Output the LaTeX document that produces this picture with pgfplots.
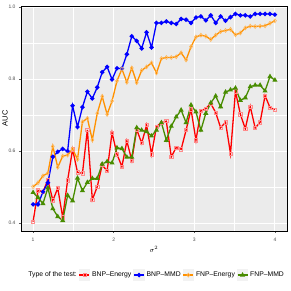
\documentclass[border=0pt]{standalone}
\usepackage{pgfplots}
\pgfplotsset{compat=1.18}
\usepackage{pgfplotstable}
\usepackage{fontspec}
\setmainfont{Liberation Sans}
\definecolor{panelbg}{HTML}{EBEBEB}
\definecolor{keybg}{HTML}{F2F2F2}
\definecolor{gray30}{HTML}{4D4D4D}
\definecolor{cred}{HTML}{FF0000}
\definecolor{cblue}{HTML}{0000FF}
\definecolor{corange}{RGB}{255,145,0}
\definecolor{cgreen}{RGB}{72,140,0}

\pgfplotstableread{
x      bnpE   bnpM   fnpE   fnpM
1.0000 0.404  0.452  0.501  0.485
1.0612 0.491  0.452  0.512  0.471
1.1224 0.487  0.487  0.531  0.454
1.1837 0.520  0.512  0.539  0.498
1.2449 0.463  0.584  0.613  0.440
1.3061 0.497  0.598  0.555  0.418
1.3673 0.416  0.606  0.586  0.407
1.4286 0.519  0.600  0.589  0.477
1.4898 0.605  0.726  0.606  0.462
1.5510 0.541  0.667  0.577  0.525
1.6122 0.538  0.722  0.681  0.490
1.6735 0.659  0.765  0.691  0.513
1.7347 0.465  0.746  0.631  0.524
1.7959 0.501  0.777  0.705  0.524
1.8571 0.561  0.819  0.752  0.564
1.9184 0.545  0.834  0.702  0.571
1.9796 0.651  0.799  0.739  0.567
2.0408 0.591  0.830  0.795  0.609
2.1020 0.557  0.829  0.828  0.607
2.1633 0.628  0.869  0.791  0.583
2.2245 0.574  0.919  0.831  0.583
2.2857 0.660  0.906  0.790  0.665
2.3469 0.622  0.885  0.824  0.658
2.4082 0.672  0.930  0.834  0.654
2.4694 0.591  0.888  0.845  0.642
2.5306 0.668  0.956  0.817  0.658
2.5918 0.679  0.956  0.857  0.679
2.6531 0.683  0.960  0.860  0.630
2.7143 0.584  0.956  0.860  0.669
2.7755 0.610  0.953  0.862  0.695
2.8367 0.605  0.967  0.873  0.714
2.8980 0.658  0.965  0.853  0.679
2.9592 0.716  0.956  0.890  0.728
3.0204 0.630  0.971  0.917  0.709
3.0816 0.712  0.974  0.922  0.658
3.1429 0.718  0.963  0.919  0.705
3.2041 0.732  0.977  0.910  0.734
3.2653 0.707  0.956  0.922  0.753
3.3265 0.665  0.974  0.932  0.723
3.3878 0.680  0.962  0.935  0.764
3.4490 0.593  0.972  0.938  0.770
3.5102 0.766  0.981  0.923  0.775
3.5714 0.702  0.977  0.928  0.741
3.6327 0.662  0.977  0.942  0.748
3.6939 0.724  0.974  0.947  0.779
3.7551 0.664  0.981  0.946  0.783
3.8163 0.680  0.981  0.947  0.783
3.8776 0.754  0.981  0.948  0.767
3.9388 0.721  0.981  0.955  0.807
4.0000 0.715  0.979  0.962  0.797
}\datatable

\begin{document}
\begin{tikzpicture}[x=1pt,y=1pt]
\path[use as bounding box] (0,0) rectangle (291,291);
\begin{axis}[
  at={(21pt,60pt)}, anchor=south west,
  scale only axis, width=266pt, height=225pt,
  xmin=0.85, xmax=4.15, ymin=0.378, ymax=1.003,
  axis background/.style={fill=panelbg},
  axis line style={black, line width=0.8pt},
  xtick={1,2,3,4}, xticklabels={1,2,3,4},
  ytick={0.4,0.6,0.8,1.0}, yticklabels={0.4,0.6,0.8,1.0},
  minor xtick={1.5,2.5,3.5}, minor ytick={0.5,0.7,0.9},
  grid=both,
  major grid style={white, line width=1pt},
  minor grid style={white, line width=0.5pt},
  tick align=outside, tick pos=left,
  major tick length=2pt, minor tick length=0pt,
  tick style={gray!70!black, line width=0.5pt},
  ticklabel style={font=\fontsize{5}{6}\selectfont, text=gray30},
  xticklabel style={yshift=-1.5pt},
  xlabel={$\sigma^2$}, ylabel={AUC},
  every axis x label/.style={at={(axis description cs:0.5,-0.08)}, anchor=center, font=\fontsize{7.5}{9}\selectfont},
  every axis y label/.style={at={(axis description cs:-0.06,0.5)}, rotate=90, anchor=center, font=\fontsize{7.5}{9}\selectfont},
  legend style={at={(axis description cs:0.508,-0.196)}, anchor=center, draw=none, fill=none,
    font=\fontsize{6.8}{8}\selectfont, /tikz/every even column/.append style={column sep=0pt},
    /tikz/every odd column/.append style={column sep=0pt}},
  legend columns=5,
  legend cell align=left,
  legend image code/.code={
    \fill[keybg] (0pt,-5pt) rectangle (10pt,5pt);
    \draw[mark=none] (0pt,0pt) -- (10pt,0pt);
    \draw plot coordinates {(5pt,0pt)};
  },
]
\addlegendimage{empty legend}
\addlegendentry{Type of the test:}
\addplot[cred, line width=1.3pt, mark=square, mark size=1.6pt, mark options={solid, draw=red!45, fill=none, line width=0.6pt}]
  table[x=x, y=bnpE] {\datatable};
\addlegendentry{BNP–Energy}
\addplot[cblue, line width=1.3pt, mark=*, mark size=1.5pt]
  table[x=x, y=bnpM] {\datatable};
\addlegendentry{BNP–MMD}
\addplot[corange, line width=1.3pt, mark=diamond, mark size=2pt, mark options={solid, draw=corange!65!white, fill=none, line width=0.6pt}]
  table[x=x, y=fnpE] {\datatable};
\addlegendentry{FNP–Energy}
\addplot[cgreen, line width=1.3pt, mark=triangle*, mark size=1.7pt]
  table[x=x, y=fnpM] {\datatable};
\addlegendentry{FNP–MMD}
\end{axis}
\end{tikzpicture}
\end{document}
